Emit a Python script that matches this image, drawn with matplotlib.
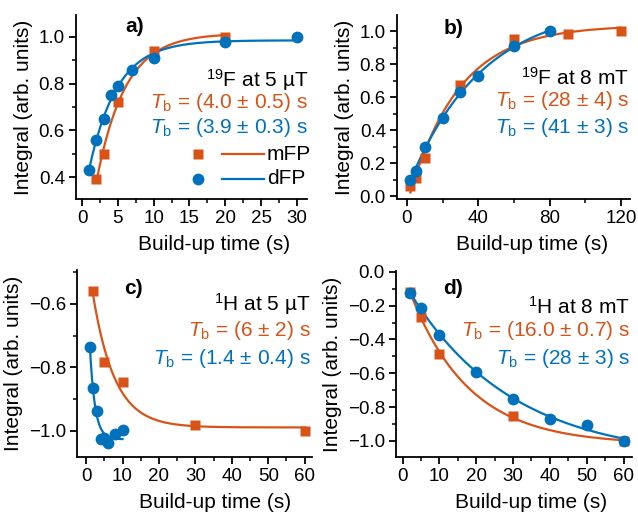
import numpy as np
import matplotlib
matplotlib.use("Agg")
import matplotlib.pyplot as plt
from matplotlib.ticker import MultipleLocator, FuncFormatter

plt.rcParams['font.family'] = ['Liberation Sans', 'DejaVu Sans']
plt.rcParams['mathtext.fontset'] = 'custom'
plt.rcParams['mathtext.rm'] = 'Liberation Sans'
plt.rcParams['mathtext.it'] = 'Liberation Sans:italic'

ORANGE = "#D95319"
BLUE = "#0072BD"

# a) 19F at 5 uT
a_mfp_t = [2, 3, 5, 10, 20]
a_mfp_y = [0.39, 0.50, 0.72, 0.94, 1.00]
a_dfp_t = [1, 2, 3, 4, 5, 7, 10, 20, 30]
a_dfp_y = [0.43, 0.56, 0.65, 0.75, 0.79, 0.86, 0.91, 0.98, 1.00]
# b) 19F at 8 mT
b_mfp_t = [2, 5, 10, 30, 60, 90, 120]
b_mfp_y = [0.06, 0.11, 0.23, 0.67, 0.95, 0.98, 1.00]
b_dfp_t = [2, 5, 10, 20, 30, 40, 60, 80]
b_dfp_y = [0.10, 0.15, 0.30, 0.47, 0.63, 0.73, 0.91, 1.00]
# c) 1H at 5 uT
c_mfp_t = [2, 5, 10, 30, 60]
c_mfp_y = [-0.56, -0.784, -0.847, -0.981, -1.00]
c_dfp_t = [1, 2, 3, 4, 5, 6, 8, 10]
c_dfp_y = [-0.734, -0.866, -0.937, -1.026, -1.021, -1.038, -1.011, -0.997]
# d) 1H at 8 mT
d_mfp_t = [2, 5, 10, 30, 60]
d_mfp_y = [-0.12, -0.265, -0.485, -0.855, -1.00]
d_dfp_t = [2, 5, 10, 20, 30, 40, 50, 60]
d_dfp_y = [-0.125, -0.215, -0.375, -0.59, -0.75, -0.87, -0.905, -1.00]

# build-up times shown in the panels (mFP, dFP)
tb_a = [4.0, 3.9]
tb_b = [28, 41]
tb_c = [6, 1.4]
tb_d = [16.0, 28]

W, H = 638, 515


def fpos(x, y):
    return x / W, 1 - y / H


def fit_curve(t, y, tb):
    # y = A + B exp(-t/Tb) with Tb fixed, A and B by least squares
    t = np.asarray(t, float)
    y = np.asarray(y, float)
    M = np.column_stack([np.ones_like(t), np.exp(-t / tb)])
    (A, B), *_ = np.linalg.lstsq(M, y, rcond=None)
    tt = np.linspace(t.min(), t.max(), 300)
    return tt, A + B * np.exp(-tt / tb)


def fmt(v, pos):
    s = f'{v:.1f}'
    if s == '-0.0':
        s = '0.0'
    return s.replace('-', '\u2212')


fig = plt.figure(figsize=(W / 100, H / 100), dpi=100)

rects = {
    'a': (76, 15, 307, 199),
    'b': (397, 15, 630, 199),
    'c': (77, 270, 312, 457),
    'd': (396, 271, 632, 457),
}
xlab_center = {'a': 214, 'b': 532, 'c': 215, 'd': 531}

panels = {
    'a': (a_mfp_t, a_mfp_y, a_dfp_t, a_dfp_y, tb_a, (-0.84, 31.4), (0.306, 1.094), 5, [0.4, 0.6, 0.8, 1.0]),
    'b': (b_mfp_t, b_mfp_y, b_dfp_t, b_dfp_y, tb_b, (-5.5, 125), (-0.018, 1.097), 40, [0.0, 0.2, 0.4, 0.6, 0.8, 1.0]),
    'c': (c_mfp_t, c_mfp_y, c_dfp_t, c_dfp_y, tb_c, (-2.5, 62), (-1.082, -0.493), 10, [-1.0, -0.8, -0.6]),
    'd': (d_mfp_t, d_mfp_y, d_dfp_t, d_dfp_y, tb_d, (-1.8, 62.3), (-1.095, 0.005), 10, [-1.0, -0.8, -0.6, -0.4, -0.2, 0.0]),
}

axes = {}
for key, (l, t, r, b) in rects.items():
    ax = fig.add_axes([l / W, 1 - b / H, (r - l) / W, (b - t) / H])
    mt, my, dt, dy, tb, xl, yl, xmaj, yt = panels[key]
    for tt_, yy_, tbv, col, mk, ms in [(mt, my, tb[0], ORANGE, 's', 7.5), (dt, dy, tb[1], BLUE, 'o', 8.5)]:
        ft, fy = fit_curve(tt_, yy_, tbv)
        ax.plot(ft, fy, color=col, lw=1.6, zorder=2)
        ax.plot(tt_, yy_, ls='none', marker=mk, ms=ms, color=col, mec='none', zorder=3)
    ax.set_xlim(*xl)
    ax.set_ylim(*yl)
    ax.xaxis.set_major_locator(MultipleLocator(xmaj))
    ax.xaxis.set_minor_locator(MultipleLocator(xmaj / 2))
    ax.set_yticks(yt)
    ax.yaxis.set_minor_locator(MultipleLocator(0.1))
    ax.yaxis.set_major_formatter(FuncFormatter(fmt))
    for s in ['top', 'right']:
        ax.spines[s].set_visible(False)
    for s in ['left', 'bottom']:
        ax.spines[s].set_linewidth(1.3)
    ax.tick_params(which='major', direction='out', length=5, width=1.3, labelsize=13.5, pad=3)
    ax.tick_params(which='minor', direction='out', length=3, width=1.1)
    ax.set_xlabel('Build-up time (s)', fontsize=15)
    ax.xaxis.set_label_coords((xlab_center[key] - l) / (r - l), -(246 - b) / (b - t) if False else -46 / (b - t))
    ax.xaxis.label.set_va('center')
    ax.set_ylabel('Integral (arb. units)', fontsize=15, labelpad=4)
    axes[key] = ax

# panel labels
for key, (x, y) in {'a': (135, 27), 'b': (454, 28), 'c': (133, 288), 'd': (453, 288)}.items():
    fig.text(*fpos(x, y), key + ')', fontsize=15, fontweight='bold', ha='center', va='center')

# annotations
notes = {
    'a': (308, [80, 103, 128], '$^{19}$F at 5 µT', ['(4.0 ± 0.5)', '(3.9 ± 0.3)']),
    'b': (629, [78, 101, 128], '$^{19}$F at 8 mT', ['(28 ± 4)', '(41 ± 3)']),
    'c': (311, [304, 331, 358], '$^{1}$H at 5 µT', ['(6 ± 2)', '(1.4 ± 0.4)']),
    'd': (630, [307, 331, 358], '$^{1}$H at 8 mT', ['(16.0 ± 0.7)', '(28 ± 3)']),
}
for key, (xr, ys, title, txt) in notes.items():
    fig.text(*fpos(xr, ys[0]), title, fontsize=15, ha='right', va='center', color='black')
    fig.text(*fpos(xr, ys[1]), '$T_\\mathrm{b}$ = ' + txt[0] + ' s', fontsize=15, ha='right', va='center', color=ORANGE)
    fig.text(*fpos(xr, ys[2]), '$T_\\mathrm{b}$ = ' + txt[1] + ' s', fontsize=15, ha='right', va='center', color=BLUE)

# legend in panel a
for yrow, col, mk, ms, lab in [(154, ORANGE, 's', 7.5, 'mFP'), (179, BLUE, 'o', 8.5, 'dFP')]:
    x0, y0 = fpos(198, yrow)
    fig.add_artist(plt.Line2D([x0], [y0], ls='none', marker=mk, ms=ms, color=col, mec='none',
                              transform=fig.transFigure))
    x1, _ = fpos(222, yrow)
    x2, _ = fpos(264, yrow)
    fig.add_artist(plt.Line2D([x1, x2], [y0, y0], color=col, lw=1.6, transform=fig.transFigure))
    fig.text(*fpos(267, yrow), lab, fontsize=15, ha='left', va='center')

fig.savefig("out.png", dpi=100)
